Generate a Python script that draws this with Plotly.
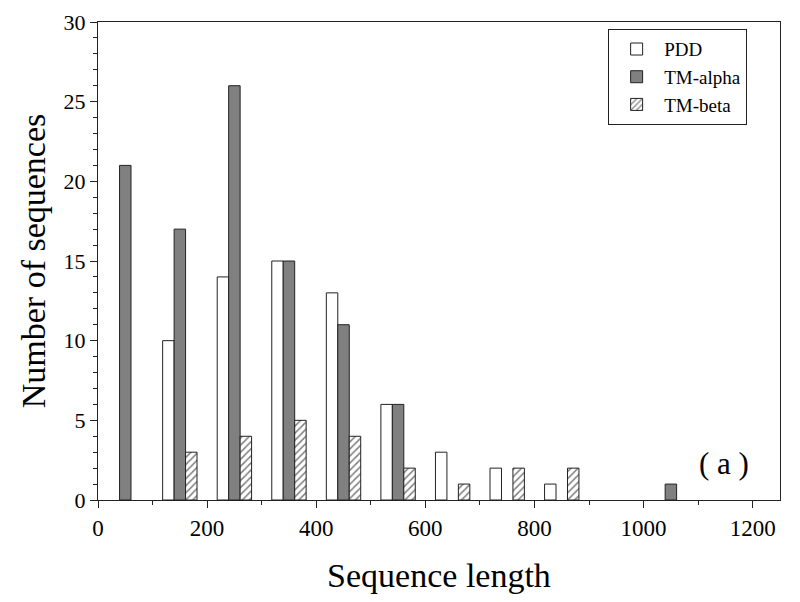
import plotly.graph_objects as go

# bin centres (sequence length) and counts per class
bin_centers = [50, 150, 250, 350, 450, 550, 650, 750, 850, 950, 1050]
pdd_counts = [0, 10, 14, 15, 13, 6, 3, 2, 1, 0, 0]
tm_alpha_counts = [21, 17, 26, 15, 11, 6, 0, 0, 0, 0, 1]
tm_beta_counts = [0, 3, 4, 5, 4, 2, 1, 2, 2, 0, 0]

FONT = "Liberation Serif, Times New Roman, serif"
LINE = "#222222"


def _drop_zero(vals):
    # empty bins get no bar (otherwise the outline shows as a flat line)
    return [v if v else None for v in vals]


fig = go.Figure()

fig.add_trace(go.Bar(
    x=bin_centers, y=_drop_zero(pdd_counts), name="PDD",
    marker=dict(color="white", line=dict(color=LINE, width=1)),
))
fig.add_trace(go.Bar(
    x=bin_centers, y=_drop_zero(tm_alpha_counts), name="TM-alpha",
    marker=dict(color="#808080", line=dict(color=LINE, width=1)),
))
fig.add_trace(go.Bar(
    x=bin_centers, y=_drop_zero(tm_beta_counts), name="TM-beta",
    marker=dict(
        color="white",
        line=dict(color=LINE, width=1),
        pattern=dict(shape="/", fgcolor="black", bgcolor="white", size=5, solidity=0.3),
    ),
))

fig.add_annotation(
    x=1148, y=2.3, text="( a )", showarrow=False,
    font=dict(family=FONT, size=31, color="black"),
)

# the page body adds ~8px offset, so margins are shifted to compensate
fig.update_layout(
    width=800, height=602,
    template="simple_white",
    barmode="group",
    bargap=0.37,
    bargroupgap=0,
    font=dict(family=FONT, size=20, color="black"),
    margin=dict(l=90, r=28, t=14, b=110),
    legend=dict(
        x=0.748, y=0.985, xanchor="left", yanchor="top",
        bordercolor=LINE, borderwidth=1, bgcolor="white",
        font=dict(family=FONT, size=19),
        itemwidth=45,
        tracegroupgap=2,
    ),
    paper_bgcolor="white", plot_bgcolor="white",
)

fig.update_xaxes(
    range=[0, 1250], dtick=200, tick0=0, automargin=False,
    ticks="outside", ticklen=7, tickcolor=LINE,
    minor=dict(dtick=100, ticks="outside", ticklen=4, tickcolor=LINE),
    showline=True, linecolor=LINE, linewidth=1, mirror=True,
    tickfont=dict(family=FONT, size=23),
    ticklabeloverflow="allow",
    title=dict(text="Sequence length", font=dict(family=FONT, size=34), standoff=23),
)
fig.update_yaxes(
    range=[0, 30], dtick=5, tick0=0, automargin=False,
    ticks="outside", ticklen=7, tickcolor=LINE,
    minor=dict(dtick=1, ticks="outside", ticklen=4, tickcolor=LINE),
    showline=True, linecolor=LINE, linewidth=1, mirror=True,
    tickfont=dict(family=FONT, size=22),
    ticklabeloverflow="allow",
    title=dict(text="Number of sequences", font=dict(family=FONT, size=34), standoff=7),
)

fig.write_html("out.html")
